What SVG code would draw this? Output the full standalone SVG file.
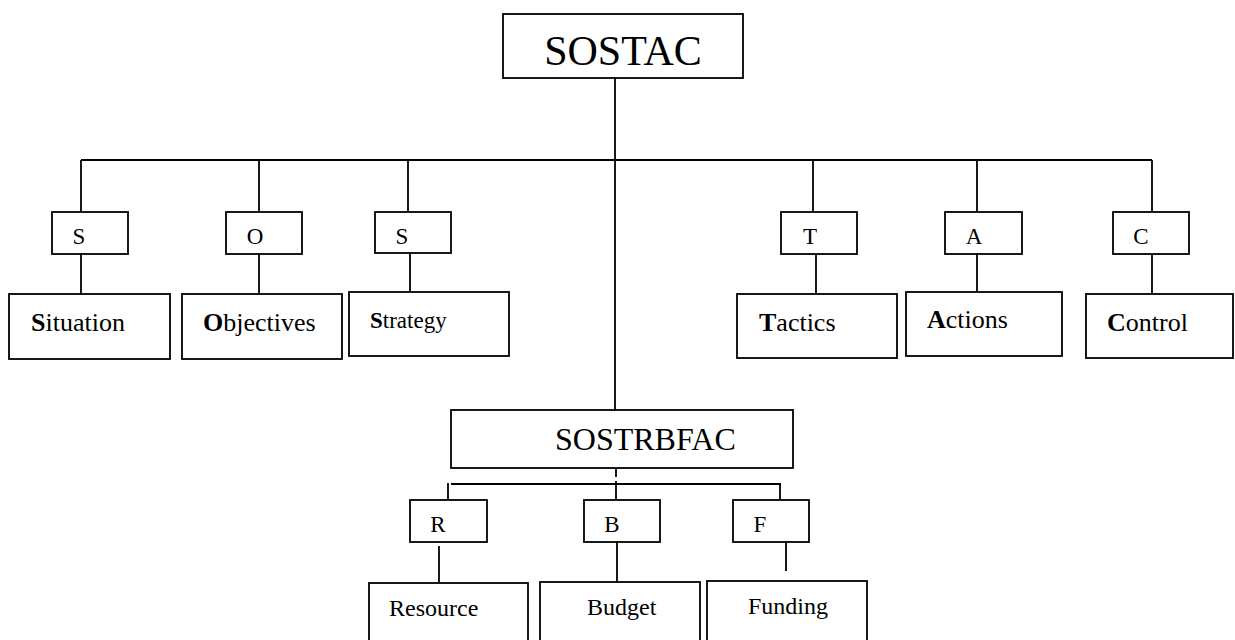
<svg xmlns="http://www.w3.org/2000/svg" width="1235" height="640" viewBox="0 0 1235 640">
<style>
.box{fill:#fff;stroke:#000;stroke-width:1.8}
.ln{stroke:#000;stroke-width:1.8;fill:none}
text{font-family:"Liberation Serif","Times New Roman",serif;fill:#000}
.let{font-size:23px;text-anchor:middle}
.lab{font-size:26px}
.lab2{font-size:24px}
.b{font-weight:bold}
</style>
<rect width="1235" height="640" fill="#fff"/>
<g id="connectors">
<path class="ln" d="M615,78 V410"/>
<path class="ln" d="M81,160 H1152"/>
<path class="ln" d="M81,160 V212 M259,160 V212 M408,160 V212 M813,160 V212 M977,160 V212 M1152,160 V212"/>
<path class="ln" d="M81,254 V294 M259,254 V294 M410,253 V292 M816,254 V294 M977,254 V292 M1152,254 V294"/>
<path class="ln" d="M616,468 V477 M616,481 V500"/>
<path class="ln" d="M451,484 H781"/>
<path class="ln" d="M448,483 V500 M780,484 V500"/>
<path class="ln" d="M439,546 V582 M617,542 V582 M786,534 V571"/>
</g>
<g id="sostac"><rect class="box" x="503" y="14" width="240" height="64"/><text x="623" y="65" font-size="42" text-anchor="middle">SOSTAC</text></g>
<g id="s1"><rect class="box" x="52" y="212" width="76" height="42"/><text class="let" x="79" y="244">S</text></g>
<g id="o1"><rect class="box" x="226" y="212" width="76" height="42"/><text class="let" x="255" y="244">O</text></g>
<g id="s2"><rect class="box" x="375" y="212" width="76" height="41"/><text class="let" x="402" y="244">S</text></g>
<g id="t1"><rect class="box" x="781" y="212" width="76" height="42"/><text class="let" x="810" y="244">T</text></g>
<g id="a1"><rect class="box" x="945" y="212" width="77" height="42"/><text class="let" x="974" y="244">A</text></g>
<g id="c1"><rect class="box" x="1113" y="212" width="76" height="42"/><text class="let" x="1141" y="244">C</text></g>
<g id="situation"><rect class="box" x="9" y="294" width="161" height="65"/><text class="lab" x="31" y="331"><tspan class="b">S</tspan>ituation</text></g>
<g id="objectives"><rect class="box" x="182" y="294" width="160" height="65"/><text class="lab" x="203" y="331"><tspan class="b">O</tspan>bjectives</text></g>
<g id="strategy"><rect class="box" x="349" y="292" width="160" height="64"/><text x="370" y="328" font-size="23"><tspan class="b">S</tspan>trategy</text></g>
<g id="tactics"><rect class="box" x="737" y="294" width="160" height="64"/><text class="lab" x="759" y="331"><tspan class="b">T</tspan>actics</text></g>
<g id="actions"><rect class="box" x="906" y="292" width="156" height="64"/><text class="lab" x="927" y="328"><tspan class="b">A</tspan>ctions</text></g>
<g id="control"><rect class="box" x="1086" y="294" width="147" height="64"/><text class="lab" x="1107" y="331"><tspan class="b">C</tspan>ontrol</text></g>
<g id="sostrbfac"><rect class="box" x="451" y="410" width="342" height="58"/><text x="555" y="450" font-size="32">SOSTRBFAC</text></g>
<g id="r1"><rect class="box" x="410" y="500" width="77" height="42"/><text class="let" x="438" y="532">R</text></g>
<g id="b1"><rect class="box" x="584" y="500" width="76" height="42"/><text class="let" x="612" y="532">B</text></g>
<g id="f1"><rect class="box" x="733" y="500" width="76" height="42"/><text class="let" x="760" y="532">F</text></g>
<g id="resource"><rect class="box" x="369" y="583" width="159" height="70"/><text class="lab2" x="389" y="616">Resource</text></g>
<g id="budget"><rect class="box" x="540" y="582" width="160" height="70"/><text class="lab2" x="587" y="615">Budget</text></g>
<g id="funding"><rect class="box" x="707" y="581" width="160" height="70"/><text class="lab2" x="748" y="614">Funding</text></g>
</svg>
